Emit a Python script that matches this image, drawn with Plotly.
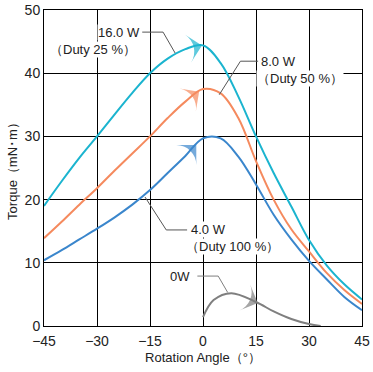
import numpy as np
import plotly.graph_objects as go

# ---- data ----
angles = [-45, -40, -35, -30, -25, -20, -15, -10, -5, 0, 5, 10, 15, 20, 25, 30, 35, 40, 45]
torque_16w = [19.0, 22.9, 26.6, 30.0, 33.5, 36.9, 40.0, 42.3, 43.8, 44.4, 41.6, 36.3, 30.0, 24.2, 18.9, 13.6, 9.6, 6.6, 4.2]
torque_8w = [13.9, 16.5, 19.2, 21.8, 24.6, 27.3, 30.0, 32.9, 35.5, 37.5, 36.8, 32.9, 26.1, 20.0, 15.3, 11.8, 8.4, 5.7, 3.5]
torque_4w = [10.4, 12.0, 13.7, 15.4, 17.2, 19.2, 21.5, 24.2, 26.9, 29.7, 29.7, 26.8, 22.4, 17.6, 13.7, 10.3, 7.4, 4.6, 2.5]

angles_0w = [0, 3, 8, 15, 20, 25, 30, 33.3]
torque_0w = [1.4, 4.1, 5.2, 3.8, 2.3, 1.1, 0.3, 0.0]

x_ticks = [-45, -30, -15, 0, 15, 30, 45]
x_ticktext = ["−45", "−30", "−15", "0", "15", "30", "45"]
y_ticks = [0, 10, 20, 30, 40, 50]

CYAN = "#1bb4cf"
ORANGE = "#f58a5e"
BLUE = "#3a86cc"
GRAY = "#7f7f7f"
FONT = "Liberation Sans, Arial, sans-serif"

fig = go.Figure()
series = [
    (angles, torque_16w, CYAN, -0.3),
    (angles, torque_8w, ORANGE, -1.1),
    (angles, torque_4w, BLUE, -1.9),
    (angles_0w, torque_0w, GRAY, 15.5),
]
for xs, ys, col, _ in series:
    fig.add_trace(go.Scatter(x=xs, y=ys, mode="lines",
                             line=dict(color=col, width=2, shape="spline", smoothing=1.0),
                             hoverinfo="skip", showlegend=False))

# direction arrowheads on the curves (positions interpolated from the series)
for xs, ys, col, xtip in series:
    ytip = float(np.interp(xtip, xs, ys))
    xtail = xtip - 1.5
    ytail = float(np.interp(xtail, xs, ys))
    fig.add_trace(go.Scatter(x=[xtail, xtip], y=[ytail, ytip], mode="markers",
                             marker=dict(symbol="arrow-wide", size=[0, 20], color=col,
                                         angleref="previous", line=dict(width=0)),
                             hoverinfo="skip", showlegend=False))

annotations = []
def label(x, y, text, xanchor="left"):
    annotations.append(dict(x=x, y=y, xref="x", yref="y", text=text, showarrow=False,
                            xanchor=xanchor, yanchor="middle", bgcolor="white",
                            borderpad=0,
                            font=dict(family=FONT, size=13, color="#222")))

label(-17.6, 46.5, "16.0 W", "right")
label(-18.8, 43.8, "（Duty 25 %）", "right")
label(16.0, 41.9, "8.0 W")
label(15.0, 39.2, "（Duty 50 %）")
label(-3.8, 15.2, "4.0 W")
label(-5.0, 12.6, "（Duty 100 %）")
label(-9.5, 7.9, "0W")

shapes = []
def leader(pts, col="#555"):
    path = "M " + " L ".join(f"{px},{py}" for px, py in pts)
    shapes.append(dict(type="path", path=path, xref="x", yref="y",
                       line=dict(color=col, width=1)))

leader([(-17.2, 46.5), (-11.3, 46.5), (-7.9, 43.2)])
leader([(15.6, 41.9), (10.6, 41.9), (4.6, 36.6)])
leader([(-4.5, 15.2), (-10.4, 15.2), (-16.4, 20.4)])
leader([(-1.6, 7.9), (4.3, 7.9), (7.0, 5.3)], GRAY)

fig.update_layout(
    width=373, height=372,
    margin=dict(l=44, r=11, t=10, b=46, autoexpand=False),
    paper_bgcolor="white", plot_bgcolor="white",
    font=dict(family=FONT, size=13, color="#222"),
    annotations=annotations, shapes=shapes,
    xaxis=dict(range=[-45, 45], tickvals=x_ticks, ticktext=x_ticktext,
               showgrid=True, gridcolor="black", gridwidth=1,
               showline=True, linecolor="black", linewidth=1, mirror=True,
               zeroline=False, ticks="", ticklen=0, automargin=False,
               tickfont=dict(size=14), ticklabelstandoff=2,
               title=dict(text="Rotation Angle（°）", standoff=5, font=dict(size=13))),
    yaxis=dict(range=[0, 50], tickvals=y_ticks,
               showgrid=True, gridcolor="black", gridwidth=1,
               showline=True, linecolor="black", linewidth=1, mirror=True,
               zeroline=False, ticks="", ticklen=0, automargin=False,
               tickfont=dict(size=14),
               title=dict(text="Torque（mN･m）", standoff=4, font=dict(size=13))),
)

fig.write_html("out.html", config={"displayModeBar": False},
               post_script="document.body.style.margin='0';")
